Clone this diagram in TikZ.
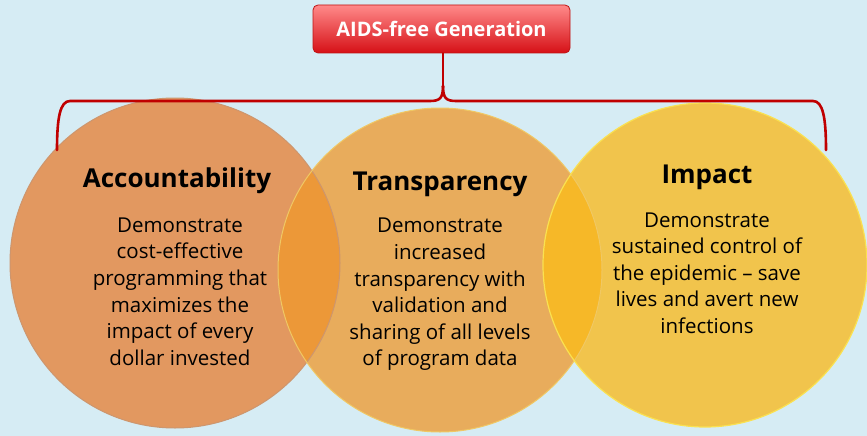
\documentclass[tikz,border=0pt]{standalone}
\usepackage{fontspec}
\setmainfont{Open Sans}
\definecolor{bgc}{RGB}{214,236,244}
\definecolor{cA}{RGB}{226,152,96}
\definecolor{cB}{RGB}{232,172,92}
\definecolor{cC}{RGB}{241,196,76}
\definecolor{oAB}{RGB}{236,152,56}
\definecolor{oBC}{RGB}{246,184,40}
\definecolor{rimA}{RGB}{205,150,110}
\definecolor{rimB}{RGB}{240,200,100}
\definecolor{rimC}{RGB}{250,225,80}
\definecolor{brk}{RGB}{192,0,0}
\definecolor{boxtop}{RGB}{255,138,138}
\definecolor{boxbot}{RGB}{214,16,22}
\definecolor{boxedge}{RGB}{190,20,20}
\tikzset{
  ring/.style={circle, inner sep=0pt, minimum size=#1},
  head/.style={font=\bfseries\fontsize{26}{30}\selectfont, text=black},
  body/.style={font=\fontsize{20.5}{26.6}\selectfont, align=center, text=black},
  brace/.style={draw=brk, line width=2.6pt, line cap=round},
}
\begin{document}
\begin{tikzpicture}[x=1pt,y=-1pt]
\fill[bgc] (0,0) rectangle (867,436);
\useasboundingbox (0,0) rectangle (867,436);
% circles
\node[ring=330pt, fill=cA] (cirA) at (175,263) {};
\node[ring=324pt, fill=cB] (cirB) at (440,270) {};
\node[ring=324pt, fill=cC] (cirC) at (705,265) {};
\begin{scope}
  \clip (175,263) circle (165);
  \fill[oAB] (440,270) circle (162);
\end{scope}
\begin{scope}
  \clip (440,270) circle (162);
  \fill[oBC] (705,265) circle (162);
\end{scope}
\draw[rimA, line width=1pt] (175,263) circle (165);
\draw[rimB, line width=1pt] (440,270) circle (162);
\draw[rimC, line width=1.2pt] (705,265) circle (162);
% title box
\node[rounded corners=5pt, draw=boxedge, line width=0.8pt, top color=boxtop, bottom color=boxbot,
  minimum width=257pt, minimum height=48pt, text=white,
  font=\bfseries\fontsize{20}{24}\selectfont] (title) at (441.5,29) {AIDS-free Generation};
% bracket
\coordinate (lend) at (57,150);
\coordinate (rend) at (826,150);
\coordinate (stem) at (443,86);
\draw[brace] (title.south -| stem) -- (stem);
\draw[brace] (lend) .. controls (57,118) and (60,101) .. (70,101) -- (430,101)
  .. controls (440,101) and (443,98) .. (stem);
\draw[brace] (stem) .. controls (443,98) and (446,101) .. (456,101) -- (813,101)
  .. controls (823,101) and (826,118) .. (rend);
% texts
\node[head] (hA) at (177,181) {Accountability};
\node[body] (bA) at (180,291.5) {Demonstrate\\cost-effective\\programming that\\maximizes the\\impact of every\\dollar invested};
\node[head] (hB) at (440,184) {Transparency};
\node[body] (bB) at (440,294.5) {Demonstrate\\increased\\transparency with\\validation and\\sharing of all levels\\of program data};
\node[head] (hC) at (707,177) {Impact};
\node[body] (bC) at (707,273) {Demonstrate\\sustained control of\\the epidemic – save\\lives and avert new\\infections};
\end{tikzpicture}
\end{document}
